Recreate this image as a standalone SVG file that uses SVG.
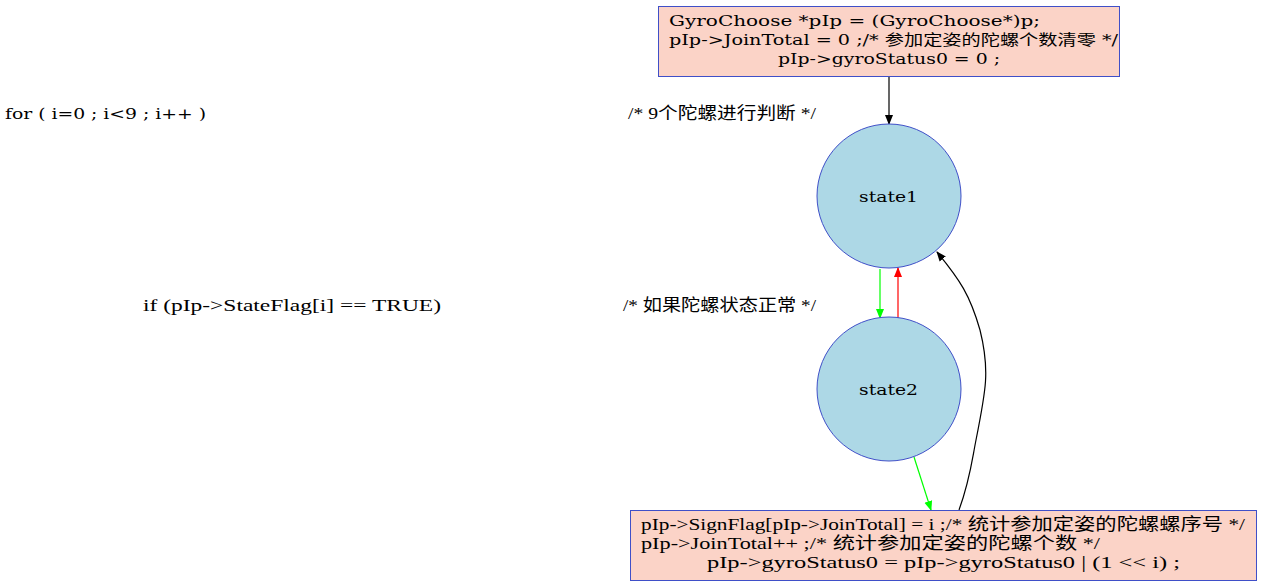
<svg xmlns="http://www.w3.org/2000/svg" width="1263" height="587" viewBox="0 0 1263 587">
<style>
text{font-family:"DejaVu Serif","Noto Sans CJK SC",serif;font-size:15px;fill:#000}
.t{font-family:"Liberation Serif","Noto Sans CJK SC",serif;font-size:17px}
.box{fill:#fbd3c7;stroke:#3f4fc8;stroke-width:1}
.st{fill:#add8e6;stroke:#3f4fc8;stroke-width:1}
.e{fill:none;stroke-width:1.2}
</style>
<defs>
<marker id="ak" markerWidth="10" markerHeight="10" refX="9" refY="5" orient="auto" markerUnits="userSpaceOnUse"><path d="M0,1 L10,5 L0,9 Z" fill="#000"/></marker>
<marker id="ag" markerWidth="10" markerHeight="10" refX="9" refY="5" orient="auto" markerUnits="userSpaceOnUse"><path d="M0,1 L10,5 L0,9 Z" fill="#00ff00"/></marker>
<marker id="ar" markerWidth="10" markerHeight="10" refX="9" refY="5" orient="auto" markerUnits="userSpaceOnUse"><path d="M0,1 L10,5 L0,9 Z" fill="#ff0000"/></marker>
</defs>
<rect width="1263" height="587" fill="#fff"/>
<g id="connectors">
<path class="e" d="M889,76 L889,124" stroke="#000" marker-end="url(#ak)"/>
<path class="e" d="M880,269 L880,318" stroke="#00ff00" marker-end="url(#ag)"/>
<path class="e" d="M898,318 L898,268" stroke="#ff0000" marker-end="url(#ar)"/>
<path class="e" d="M914,457 L931,510" stroke="#00ff00" marker-end="url(#ag)"/>
<path class="e" d="M959,510 C970,480 972,460 976,440 C986,390 990,370 980,330 C970,295 960,280 937,252" stroke="#000" marker-end="url(#ak)"/>
</g>
<g id="init">
<rect class="box" x="658.5" y="6.5" width="461" height="70"/>
<text x="669" y="26" textLength="371" lengthAdjust="spacingAndGlyphs">GyroChoose *pIp = (GyroChoose*)p;</text>
<text x="669" y="45" textLength="449" lengthAdjust="spacingAndGlyphs">pIp-&gt;JoinTotal = 0 ;/* 参加定姿的陀螺个数清零 */</text>
<text x="778" y="64" textLength="222" lengthAdjust="spacingAndGlyphs">pIp-&gt;gyroStatus0 = 0 ;</text>
</g>
<g id="state1">
<circle class="st" cx="889" cy="196" r="72"/>
<text x="859" y="202" textLength="59" lengthAdjust="spacingAndGlyphs">state1</text>
</g>
<g id="state2">
<circle class="st" cx="889" cy="389" r="72"/>
<text x="859" y="395" textLength="59" lengthAdjust="spacingAndGlyphs">state2</text>
</g>
<g id="action">
<rect class="box" x="630.5" y="510.5" width="626" height="70"/>
<text class="t" x="641" y="530" textLength="604" lengthAdjust="spacingAndGlyphs">pIp-&gt;SignFlag[pIp-&gt;JoinTotal] = i ;/* 统计参加定姿的陀螺螺序号 */</text>
<text class="t" x="641" y="549" textLength="459" lengthAdjust="spacingAndGlyphs">pIp-&gt;JoinTotal++ ;/* 统计参加定姿的陀螺个数 */</text>
<text class="t" x="707" y="568" textLength="473" lengthAdjust="spacingAndGlyphs">pIp-&gt;gyroStatus0 = pIp-&gt;gyroStatus0 | (1 &lt;&lt; i) ;</text>
</g>
<g id="labels">
<text x="5" y="119" textLength="201" lengthAdjust="spacingAndGlyphs">for ( i=0 ; i&lt;9 ; i++ )</text>
<text class="t" x="628" y="119" textLength="188" lengthAdjust="spacingAndGlyphs">/* 9个陀螺进行判断 */</text>
<text class="t" x="143" y="311" textLength="298" lengthAdjust="spacingAndGlyphs">if (pIp-&gt;StateFlag[i] == TRUE)</text>
<text class="t" x="623" y="311" textLength="193" lengthAdjust="spacingAndGlyphs">/* 如果陀螺状态正常 */</text>
</g>
</svg>
